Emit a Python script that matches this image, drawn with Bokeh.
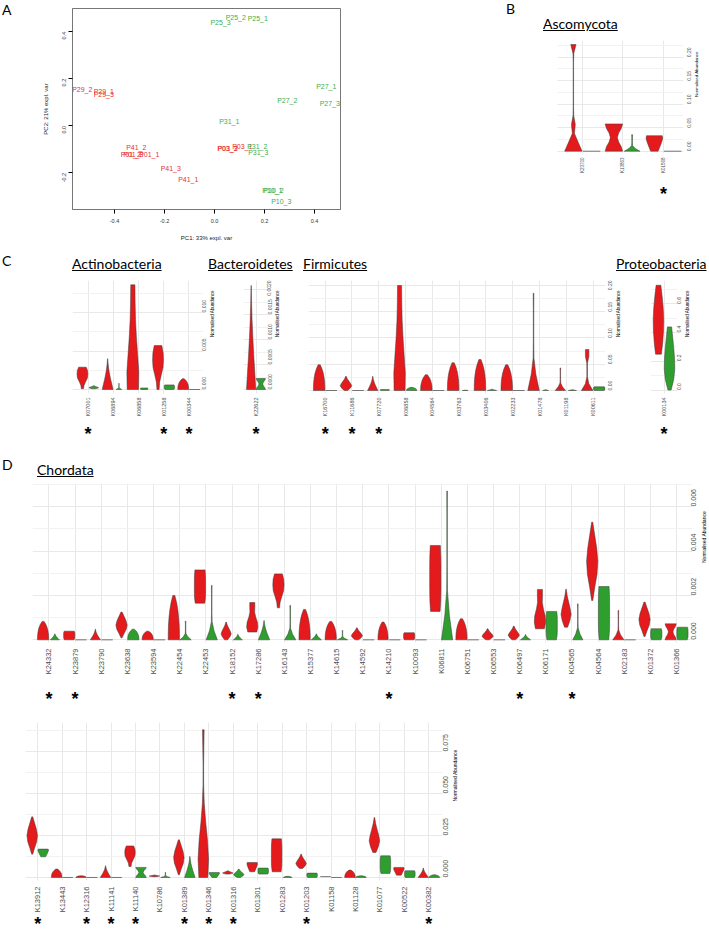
import math
from bokeh.plotting import figure
from bokeh.models import (Range1d, FixedTicker, PrintfTickFormatter, Div, Spacer, Axis)
from bokeh.layouts import row, column
from bokeh.core.properties import value
from bokeh.embed import file_html
from bokeh.resources import INLINE

# ---------------- Panel A data (PCA) ----------------
pca_labels = ["P25_3", "P25_2", "P25_1", "P29_2", "P29_1", "P29_3", "P27_1", "P27_2", "P27_3",
              "P31_1", "P41_2", "P01_2", "P01_3", "P01_1", "P03_3", "P03_2", "P03_1", "P31_2",
              "P31_3", "P41_3", "P41_1", "P10_1", "P10_2", "P10_3"]
pca_pc1 = [0.024, 0.085, 0.173, -0.529, -0.443, -0.443, 0.447, 0.291, 0.461,
           0.059, -0.313, -0.335, -0.325, -0.261, 0.051, 0.053, 0.111, 0.171,
           0.175, -0.175, -0.105, 0.231, 0.236, 0.267]
pca_pc2 = [0.441, 0.462, 0.455, 0.154, 0.145, 0.132, 0.169, 0.109, 0.096,
           0.018, -0.092, -0.121, -0.121, -0.121, -0.098, -0.098, -0.088, -0.088,
           -0.112, -0.183, -0.228, -0.277, -0.277, -0.322]
pca_group = ["g", "g", "g", "r", "r", "r", "g", "g", "g",
             "g", "r", "r", "r", "r", "r", "r", "r", "g",
             "g", "r", "r", "g", "g", "g"]

# ---------------- Violin data: (low, high, shape, relative width) ----------------
asco_cats = ["K23700", "K13863", "K01568"]
asco_red = [(0.0, 0.227, "k23700", 1.0), (0.0, 0.058, "hour", 1.0), (0.0, 0.033, "inv", 0.95)]
asco_green = [(0.0, 0.0, "flat", 1.0), (0.0, 0.035, "spike", 0.9), (0.0, 0.0, "flat", 1.0)]
asco_sig = ["K01568"]

act_cats = ["K07001", "K06894", "K06858", "K01258", "K00344"]
act_red = [(0.0001, 0.0029, "bulb", 1.0), (0.0, 0.0040, "tri", 1.0), (0.0, 0.0136, "taper", 1.1),
           (0.0, 0.0057, "bulb", 1.0), (0.0, 0.0014, "bell", 1.0)]
act_green = [(0.0001, 0.0005, "diam", 0.9), (0.0, 0.0008, "spike", 0.5), (0.0, 0.0002, "box", 0.7),
             (0.0, 0.0006, "box", 0.95), (0.0, 0.0, "flat", 1.0)]
act_sig = ["K07001", "K01258", "K00344"]

bac_cats = ["K22622"]
bac_red = [(0.0, 0.00208, "tri", 1.0)]
bac_green = [(0.0, 0.00022, "hour", 1.0)]
bac_sig = ["K22622"]

fir_cats = ["K16700", "K11686", "K07720", "K06858", "K04564", "K03763", "K03406", "K02233",
            "K01478", "K01198", "K00611"]
fir_red = [(0.0, 0.049, "bell", 1.0), (0.0, 0.027, "diam", 1.0), (0.0, 0.027, "tri", 0.9),
           (0.0, 0.200, "taper", 1.0), (0.0, 0.030, "bell", 1.0), (0.0, 0.053, "bell", 1.0),
           (0.0, 0.059, "bell", 1.0), (0.0, 0.049, "bell", 1.0), (0.0, 0.185, "spike", 1.0),
           (0.0, 0.043, "spike", 0.9), (0.0, 0.078, "spike2", 1.0)]
fir_green = [(0.0, 0.0, "flat", 1.0), (0.0, 0.0, "flat", 1.0), (0.0, 0.002, "box", 0.8),
             (0.0, 0.006, "bell", 0.9), (0.0, 0.0, "flat", 1.0), (0.0, 0.001, "tri", 0.5),
             (0.0, 0.003, "tri", 0.8), (0.0, 0.0, "flat", 1.0), (0.0, 0.002, "tri", 0.5),
             (0.0, 0.002, "tri", 0.7), (0.0, 0.007, "box", 1.0)]
fir_sig = ["K16700", "K11686", "K07720"]

pro_cats = ["K00134"]
pro_red = [(0.25, 0.73, "oval", 1.0)]
pro_green = [(0.0, 0.44, "oval2", 1.0)]
pro_sig = ["K00134"]

cho1_cats = ["K24332", "K23879", "K23790", "K23638", "K23594", "K22454", "K22453", "K18152",
             "K17286", "K16143", "K15377", "K14615", "K14592", "K14210", "K10093", "K06811",
             "K06751", "K06553", "K06497", "K06171", "K04565", "K04564", "K02183", "K01372",
             "K01366"]
cho1_red = [(0.0, 0.00083, "bell", 1.0), (0.0, 0.00039, "box", 1.0), (0.0, 0.00048, "tri", 0.9),
            (0.00009, 0.00125, "diam2", 1.0), (0.0, 0.00039, "bell", 1.0), (0.0, 0.0020, "bell", 1.0),
            (0.00165, 0.00315, "box", 1.0), (0.0, 0.00080, "diam", 0.9), (0.00035, 0.00168, "vase", 1.0),
            (0.00144, 0.00297, "bulb", 1.0), (0.0, 0.00137, "bell", 1.0), (0.0, 0.00083, "bell", 1.0),
            (0.0, 0.00054, "diam", 1.0), (0.0, 0.00080, "bell", 0.9), (0.0, 0.00032, "box", 1.0),
            (0.00128, 0.00425, "box", 1.0), (0.0, 0.00095, "bell", 1.0), (0.0, 0.00050, "diam", 1.0),
            (0.0, 0.00062, "diam", 1.0), (0.00050, 0.00227, "vase", 1.0), (0.00057, 0.00228, "diam", 0.9),
            (0.00177, 0.0053, "diam2", 1.0), (0.0, 0.00132, "spike", 1.0), (0.00015, 0.0017, "diam2", 1.0),
            (0.0, 0.00072, "hour", 1.0)]
cho1_green = [(0.0, 0.00027, "tri", 0.8), (0.0, 0.0, "flat", 1.0), (0.0, 0.0, "flat", 1.0),
              (0.0, 0.00048, "bell", 1.0), (0.0, 0.0, "flat", 1.0), (0.0, 0.00084, "spike", 1.0),
              (0.0, 0.00245, "spike", 1.0), (0.0, 0.00025, "tri", 0.8), (0.0, 0.00087, "tri", 1.0),
              (0.0, 0.00155, "spike", 1.0), (0.0, 0.00027, "tri", 0.9), (0.0, 0.00042, "spike", 0.9),
              (0.0, 0.0, "flat", 1.0), (0.0, 0.0, "flat", 1.0), (0.0, 0.0, "flat", 1.0),
              (0.0, 0.0067, "spike", 1.0), (0.0, 0.0, "flat", 1.0), (0.0, 0.0, "flat", 1.0),
              (0.0, 0.00024, "tri", 0.9), (0.0, 0.00128, "box", 1.0), (0.0, 0.00162, "spike", 0.9),
              (0.0, 0.0024, "box", 1.0), (0.0, 0.0, "flat", 1.0), (0.0, 0.0005, "box", 1.0),
              (0.0, 0.00057, "box", 1.0)]
cho1_sig = ["K24332", "K23879", "K18152", "K17286", "K14210", "K06497", "K04565"]

cho2_cats = ["K13912", "K13443", "K12316", "K11141", "K11140", "K10786", "K01389", "K01346",
             "K01316", "K01301", "K01283", "K01203", "K01158", "K01128", "K01077", "K00522", "K00382"]
cho2_red = [(0.0139, 0.0361, "diam2", 1.0), (0.0, 0.005, "bell", 1.0), (0.0, 0.001, "bell", 1.0),
            (0.0, 0.007, "tri", 1.0), (0.0065, 0.0188, "bulb", 1.0), (0.0005, 0.0015, "diam", 1.0),
            (0.0016, 0.0224, "diam2", 1.0), (0.0, 0.088, "k01346", 1.0), (0.002, 0.004, "diam", 1.0),
            (0.0034, 0.0089, "inv", 1.0), (0.0034, 0.023, "box", 1.0), (0.0054, 0.0139, "diam", 1.0),
            (0.0005, 0.0005, "flat", 1.0), (0.0, 0.0044, "bell", 1.0), (0.0149, 0.0357, "diam", 1.0),
            (0.0014, 0.006, "inv", 1.0), (0.0, 0.0056, "tri", 1.0)]
cho2_green = [(0.0123, 0.0169, "inv", 1.0), (0.0, 0.0, "flat", 1.0), (0.0, 0.0, "flat", 1.0),
              (0.0, 0.0, "flat", 1.0), (0.0, 0.006, "hour", 1.0), (0.0, 0.003, "spike", 0.9),
              (0.0, 0.0125, "tri", 1.0), (0.0, 0.003, "inv", 1.0), (0.0, 0.005, "diam", 1.0),
              (0.002, 0.0056, "box", 1.0), (0.0, 0.0007, "bell", 0.8), (0.0, 0.0026, "box", 1.0),
              (0.0, 0.0, "flat", 1.0), (0.0, 0.001, "bell", 1.0), (0.0024, 0.0129, "box", 1.0),
              (0.0, 0.004, "box", 1.0), (0.0, 0.0016, "bell", 1.0)]
cho2_sig = ["K13912", "K12316", "K11141", "K11140", "K01389", "K01346", "K01316", "K01203", "K00382"]

# violin outline profiles (relative half-width from bottom to top)
SHAPES = {
    "bell":  [1.00, 0.99, 0.95, 0.86, 0.72, 0.50, 0.18],
    "tri":   [1.00, 0.78, 0.55, 0.36, 0.20, 0.09, 0.02],
    "diam":  [0.30, 0.75, 1.00, 0.80, 0.50, 0.22, 0.05],
    "diam2": [0.10, 0.45, 0.85, 1.00, 0.80, 0.45, 0.10],
    "box":   [0.85, 0.97, 1.00, 1.00, 1.00, 0.98, 0.90],
    "hour":  [1.00, 0.85, 0.55, 0.40, 0.55, 0.85, 1.00],
    "vase":  [0.80, 1.00, 0.92, 0.62, 0.42, 0.45, 0.45],
    "spike": [1.00, 0.40, 0.07, 0.04, 0.04, 0.04, 0.06],
    "spike2": [1.00, 0.30, 0.05, 0.05, 0.06, 0.30, 0.30],
    "bulb":  [0.20, 0.30, 0.60, 0.92, 1.00, 0.95, 0.70],
    "inv":   [0.45, 0.58, 0.70, 0.82, 0.93, 1.00, 0.95],
    "taper": [0.95, 1.00, 0.80, 0.60, 0.45, 0.38, 0.35],
    "oval":  [0.55, 0.80, 0.95, 1.00, 0.90, 0.70, 0.45],
    "oval2": [0.30, 0.80, 1.00, 0.95, 0.80, 0.60, 0.40],
    "k23700": [1.00, 0.55, 0.12, 0.22, 0.04, 0.02, 0.02, 0.02, 0.02, 0.02, 0.02, 0.05, 0.30],
    "k01346": [0.85, 1.00, 0.80, 0.45, 0.18, 0.06, 0.05, 0.10, 0.15],
}

RED = "#e41a1c"
GREEN = "#2e9e2e"
PCA_RED = "#e8322f"
PCA_GREEN = "#3fae49"
FONT = "Liberation Sans"
TFONT = "Lato"
STAR_PX = 18
AXPROPS = Axis.properties()


def add_violins(p, vio, off, half, color):
    xs, ys, fx0, fx1, fy = [], [], [], [], []
    for i, (lo, hi, shape, w) in enumerate(vio):
        cx = i + 1 + off
        if shape == "flat" or hi <= lo:
            fx0.append(cx - half * w)
            fx1.append(cx + half * w)
            fy.append(lo)
            continue
        prof = SHAPES[shape]
        n = len(prof)
        yv = [lo + (hi - lo) * k / (n - 1) for k in range(n)]
        right = [cx + half * w * q for q in prof]
        left = [cx - half * w * q for q in prof]
        xs.append(right + left[::-1])
        ys.append(yv + yv[::-1])
    if xs:
        p.patches(xs, ys, fill_color=color, line_color="#3a3a3a", line_width=0.5)
    if fx0:
        p.segment(fx0, fy, fx1, fy, line_color="#555555", line_width=0.8)


def no_ticks(ax):
    ax.major_tick_out = 0
    ax.major_tick_in = 0
    ax.minor_tick_out = 0
    ax.minor_tick_in = 0
    ax.major_tick_line_color = None
    ax.minor_tick_line_color = None
    ax.axis_line_color = None


def vfig(cats, red, green, sig, xr, yr, yticks, yminor, yfmt, fw, fh, bl, br, bt, bb,
         xfs, yfs, tfs, s1, star_h, star_d, ylab_standoff, tstand, half=0.215, off=0.225):
    x_range = Range1d(*xr)
    p = figure(frame_width=fw, frame_height=fh, x_range=x_range, y_range=Range1d(*yr),
               y_axis_location="right", output_backend="svg", toolbar_location=None,
               min_border_left=bl, min_border_right=br, min_border_top=bt, min_border_bottom=bb)
    p.outline_line_color = None
    p.background_fill_color = "white"
    p.border_fill_color = "white"
    xa = p.xaxis[0]
    no_ticks(xa)
    xa.ticker = FixedTicker(ticks=list(range(1, len(cats) + 1)))
    xa.major_label_overrides = {i + 1: c for i, c in enumerate(cats)}
    xa.major_label_orientation = math.pi / 2
    xa.major_label_text_font_size = f"{xfs}px"
    xa.major_label_text_font = FONT
    xa.major_label_text_color = "#4d4d4d"
    xa.major_label_standoff = s1
    xa.axis_label_standoff = 0
    ya = p.yaxis[0]
    no_ticks(ya)
    ya.ticker = FixedTicker(ticks=yticks, minor_ticks=yminor)
    ya.formatter = PrintfTickFormatter(format=yfmt)
    ya.major_label_orientation = math.pi / 2
    ya.major_label_text_font_size = f"{yfs}px"
    ya.major_label_text_font = FONT
    ya.major_label_text_color = "#4d4d4d"
    ya.major_label_standoff = ylab_standoff
    ya.axis_label = "Normalised Abundance"
    ya.axis_label_text_font_size = f"{tfs}px"
    ya.axis_label_text_font = FONT
    ya.axis_label_text_font_style = "normal"
    ya.axis_label_text_color = "black"
    ya.axis_label_standoff = tstand
    if "axis_label_orientation" in AXPROPS:
        ya.axis_label_orientation = math.pi / 2
    p.xgrid.grid_line_color = "#e8e8e8"
    p.ygrid.grid_line_color = "#e8e8e8"
    p.ygrid.minor_grid_line_color = "#f2f2f2"
    add_violins(p, red, -off, half, RED)
    add_violins(p, green, off, half, GREEN)

    # significance stars: a thin strip below the category labels sharing the x scale
    s = figure(frame_width=fw, frame_height=star_h, x_range=x_range, y_range=Range1d(0, star_h),
               x_axis_location=None, y_axis_location=None, output_backend="svg",
               toolbar_location=None, min_border_left=bl, min_border_right=br,
               min_border_top=0, min_border_bottom=0)
    s.outline_line_color = None
    s.grid.visible = False
    if sig:
        sx = [cats.index(c) + 1 for c in sig]
        sy = [star_h - star_d - 0.2 * STAR_PX] * len(sig)
        s.text(x=sx, y=sy, text=["*"] * len(sig), text_align="center", text_baseline="middle",
               text_font_size=f"{STAR_PX}px", text_font=value(FONT), text_font_style="bold",
               text_color="black")
    return column(p, s)


def textdiv(w, h, items):
    spans = ""
    for txt, left, top, size, und in items:
        deco = "text-decoration:underline;" if und else ""
        spans += (f'<span style="position:absolute;left:{left}px;top:{top}px;font-size:{size}px;'
                  f'line-height:1;white-space:nowrap;{deco}">{txt}</span>')
    html = (f'<div style="position:relative;width:{w}px;height:{h}px;font-family:{TFONT},sans-serif;'
            f'color:#000;">{spans}</div>')
    return Div(text=html, width=w, height=h, margin=(0, 0, 0, 0))


# ---------------- Panel A ----------------
pa = figure(frame_width=268, frame_height=201, x_range=Range1d(-0.568, 0.504),
            y_range=Range1d(-0.356, 0.499), output_backend="svg", toolbar_location=None,
            min_border_left=60, min_border_right=8, min_border_top=8, min_border_bottom=39)
pa.outline_line_color = "#777777"
pa.outline_line_width = 1
pa.xgrid.visible = False
pa.ygrid.visible = False
pa.text(x=pca_pc1, y=pca_pc2, text=pca_labels,
        text_color=[PCA_RED if g == "r" else PCA_GREEN for g in pca_group],
        text_font_size="7px", text_font=value(FONT), text_align="center", text_baseline="middle")
for ax, ticks in ((pa.xaxis[0], [-0.4, -0.2, 0.0, 0.2, 0.4]), (pa.yaxis[0], [-0.2, 0.0, 0.2, 0.4])):
    ax.ticker = FixedTicker(ticks=ticks)
    ax.formatter = PrintfTickFormatter(format="%.1f")
    ax.major_tick_out = 4
    ax.major_tick_in = 0
    ax.minor_tick_out = 0
    ax.minor_tick_line_color = None
    ax.major_label_text_font_size = "5.5px"
    ax.major_label_text_font = FONT
    ax.major_label_text_color = "#333333"
    ax.axis_line_color = "#777777"
    ax.axis_label_text_font_size = "6px"
    ax.axis_label_text_font = FONT
    ax.axis_label_text_font_style = "normal"
    ax.axis_label_text_color = "#222222"
pa.xaxis[0].axis_label = "PC1: 33% expl. var"
pa.yaxis[0].axis_label = "PC2: 21% expl. var"
pa.xaxis[0].major_label_standoff = 5
pa.xaxis[0].axis_label_standoff = 9
pa.yaxis[0].major_label_orientation = math.pi / 2
pa.yaxis[0].major_label_standoff = 4
pa.yaxis[0].axis_label_standoff = 9

# ---------------- Panel B ----------------
pb = vfig(asco_cats, asco_red, asco_green, asco_sig, (0.383, 3.494), (-0.0049, 0.2355),
          [0.0, 0.05, 0.10, 0.15, 0.20], [0.025, 0.075, 0.125, 0.175, 0.225], "%.2f",
          126, 113, 52, 26, 0, 24, 4.5, 5, 4.4, 4, 71, 13, 6, 0)

# ---------------- Panel C ----------------
pc_act = vfig(act_cats, act_red, act_green, act_sig, (0.38, 5.58), (-0.00052, 0.01416),
              [0.0, 0.005, 0.010], [0.0025, 0.0075, 0.0125], "%.3f",
              131, 113, 12, 16, 0, 27, 5.5, 5, 4.5, 4, 28, 10, 1, 1)
pc_bac = vfig(bac_cats, bac_red, bac_green, bac_sig, (0.42, 1.58), (-0.00008, 0.00218),
              [0.0, 0.0005, 0.0010, 0.0015, 0.0020], [0.00025, 0.00075, 0.00125, 0.00175], "%.4f",
              25, 113, 23, 16, 0, 27, 5.5, 5, 4.5, 4, 28, 10, 1, 1)
pc_fir = vfig(fir_cats, fir_red, fir_green, fir_sig, (0.377, 11.46), (-0.0057, 0.2095),
              [0.0, 0.05, 0.10, 0.15, 0.20], [0.025, 0.075, 0.125, 0.175], "%.2f",
              297, 113, 23, 16, 0, 27, 5.5, 5, 4.5, 4, 28, 10, 5, 1)
pc_pro = vfig(pro_cats, pro_red, pro_green, pro_sig, (0.45, 1.55), (-0.024, 0.763),
              [0.0, 0.2, 0.4, 0.6], [0.1, 0.3, 0.5, 0.7], "%.1f",
              27, 113, 24, 39, 0, 27, 5.5, 5, 4.5, 4, 28, 10, 2, 1)

# ---------------- Panel D ----------------
pd_top = vfig(cho1_cats, cho1_red, cho1_green, cho1_sig, (0.37, 25.61), (-0.00012, 0.00704),
              [0.0, 0.002, 0.004, 0.006], [0.001, 0.003, 0.005, 0.007], "%.3f",
              660, 159, 32, 17, 0, 36, 7.5, 7, 5, 6, 34, 17, 1, 2)
pd_bot = vfig(cho2_cats, cho2_red, cho2_green, cho2_sig, (0.5, 17.56), (-0.0018, 0.0923),
              [0.0, 0.025, 0.05, 0.075], [0.0125, 0.0375, 0.0625, 0.0875], "%.3f",
              417, 158, 25, 26, 10, 34, 7.5, 7, 5, 6, 20, 5, 3, 1)

# ---------------- Text blocks ----------------
div_a = textdiv(12, 248, [("A", 2, 3, 14, False)])
div_b = textdiv(204, 40, [("B", 1, 2, 14, False), ("Ascomycota", 38, 17, 14, True)])
div_c = textdiv(709, 32, [("C", 2, 6, 14, False), ("Actinobacteria", 72, 9, 14, True),
                          ("Bacteroidetes", 208, 9, 14, True), ("Firmicutes", 303, 9, 14, True),
                          ("Proteobacteria", 616, 9, 14, True)])
div_d = textdiv(709, 35, [("D", 2, 10, 14, False), ("Chordata", 37, 15, 14, True)])

row1 = row(div_a, pa, Spacer(width=157, height=248, margin=(0, 0, 0, 0)),
           column(div_b, pb))
row_c = row(Spacer(width=60, height=168, margin=(0, 0, 0, 0)), pc_act, pc_bac, pc_fir, pc_pro)
root = column(row1, div_c, row_c, div_d, pd_top, pd_bot)

open("out.html", "w").write(file_html(root, INLINE))
